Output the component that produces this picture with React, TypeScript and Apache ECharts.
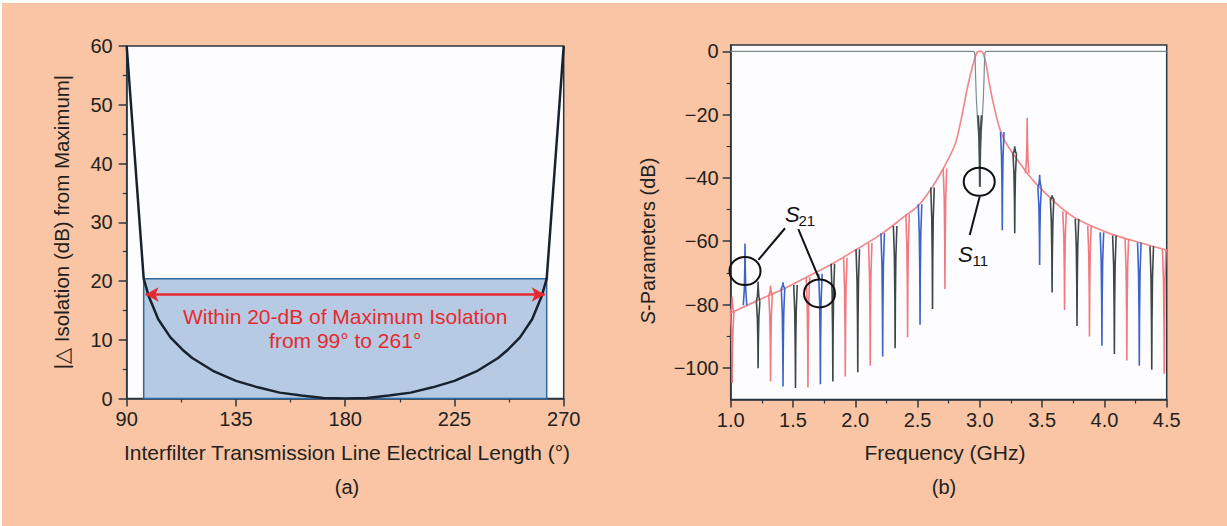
import React, { useEffect, useRef } from 'react';
import * as echarts from 'echarts';

// ---------- Panel (a): isolation deviation vs electrical length ----------
const angleDeg = [90, 97, 99, 103, 108, 113, 117, 126, 135, 144, 153, 162, 171, 180, 189, 198, 207, 216, 225, 234, 243, 247, 252, 257, 261, 263, 270];
const isoDelta = [60, 20.4, 17.5, 13.5, 10.4, 8.3, 6.9, 4.6, 3.0, 1.9, 1.0, 0.5, 0.1, 0, 0.1, 0.5, 1.0, 1.9, 3.0, 4.6, 6.9, 8.3, 10.4, 13.5, 17.5, 20.4, 60];
const windowBox = [97, 263, 20.4]; // start angle, end angle, top dB
const arrowSpan = [97.8, 262.2, 17.7]; // from, to, level
const noteLines = ['Within 20-dB of Maximum Isolation', 'from 99\u00b0 to 261\u00b0'];
const noteAnchors = [[180, 14.0], [180, 9.8]];

// ---------- Panel (b): S-parameters ----------
const envFreq = [1.0, 1.2, 1.4, 1.6, 1.8, 2.0, 2.2, 2.4, 2.5, 2.6, 2.7, 2.8, 2.85, 2.9, 2.93, 2.95, 2.97, 2.985, 3.0, 3.015, 3.03, 3.05, 3.08, 3.12, 3.16, 3.2, 3.27, 3.38, 3.48, 3.64, 3.78, 4.04, 4.31, 4.5];
const envDb = [-82.7, -79.0, -75.5, -71.5, -67.5, -62.8, -58.0, -52.0, -49.0, -44.0, -37.5, -29.5, -21.5, -11.5, -6.5, -3.5, -1.0, 0, 0, 0, -1.0, -4.0, -11.0, -18.5, -24.5, -28.3, -32.5, -38.5, -43.0, -49.0, -53.0, -57.5, -60.7, -62.8];

const s11Freq = [1.0, 2.95, 2.958, 2.962, 2.966, 2.972, 2.982, 2.995, 3.0, 3.005, 3.018, 3.028, 3.034, 3.038, 3.042, 3.05, 4.5];
const s11Db = [0, 0, -0.4, -2, -8, -15, -22, -30, -42.8, -30, -22, -15, -8, -2, -0.4, 0, 0];
const s11Core = [[3.0, -20.2, -42.8]];

const redNotchFreq = [1.012, 1.012, 1.32, 1.32, 1.62, 1.92, 2.12, 2.42, 2.72, 3.38, 3.68, 3.88, 4.18, 4.48];
const redNotchBase = [-82.4, -82.4, -77.0, -77.0, -71.3, -65.2, -60.5, -51.5, -37.0, -38.5, -50.5, -55.0, -59.3, -62.6];
const redNotchTip = [-77.5, -104.8, -74.0, -104.3, -106.1, -102.7, -99.3, -90.3, -75.1, -21.0, -81.7, -90.1, -97.7, -101.9];

const blueNotchFreq = [1.115, 1.42, 1.42, 1.72, 2.22, 2.52, 3.18, 3.48, 3.48, 3.98, 4.28];
const blueNotchBase = [-80.2, -74.8, -74.8, -70.3, -57.5, -48.3, -25.5, -43.0, -43.0, -57.2, -60.4];
const blueNotchTip = [-60.7, -73.0, -105.9, -105.2, -96.4, -86.4, -56.5, -39.0, -67.5, -93.0, -99.3];

const blackNotchFreq = [1.22, 1.22, 1.52, 1.82, 2.02, 2.32, 2.62, 3.28, 3.28, 3.58, 3.58, 3.78, 4.08, 4.38];
const blackNotchBase = [-79.0, -79.0, -73.8, -67.1, -62.5, -55.2, -43.0, -32.3, -32.3, -46.6, -46.6, -53.0, -58.2, -61.6];
const blackNotchTip = [-72.7, -100.1, -106.4, -104.3, -101.4, -93.8, -81.4, -30.0, -57.5, -45.5, -76.2, -86.8, -95.6, -100.6];

const yMajorB = [-100, -80, -60, -40, -20, 0];

// annotation anchors (data coordinates of panel b)
const circleCenters = [[1.115, -69.4], [1.713, -76.5], [2.995, -41.2]];
const leaderLines = [
  [[1.436, -55.9], [1.222, -65.9]],
  [[1.543, -56.2], [1.711, -72.0]],
  [[2.999, -45.9], [2.919, -58.0]],
];
const s21Anchor = [1.436, -51.7];
const s11Anchor = [2.825, -64.1];

const FONT = 'Liberation Sans, Arial, sans-serif';
const AX = '#2b3540';
const TXT = '#231f20';

const notchRender = (color: string, width: number) => (params: any, api: any) => {
  const f = api.value(0);
  const base = api.value(1);
  const tip = api.value(2);
  const offs = [-0.014, -0.006, -0.002, 0, 0.002, 0.006, 0.014];
  const frac = [0, 0.25, 0.6, 1, 0.6, 0.25, 0];
  const pts = offs.map((o, i) => api.coord([f + o, base + (tip - base) * frac[i]]));
  return {
    type: 'polyline',
    shape: { points: pts },
    style: { stroke: color, lineWidth: width, fill: null },
  };
};

const tickLabel = { color: TXT, fontFamily: FONT, fontSize: 20 };

export default function App() {
  const ref = useRef<HTMLDivElement>(null);
  useEffect(() => {
    if (!ref.current) return;
    const chart = echarts.init(ref.current, null, { renderer: 'svg' });
    const axisLine = { show: true, onZero: false, lineStyle: { color: AX, width: 1.5 } };
    const option: any = {
      animation: false,
      backgroundColor: 'transparent',
      grid: [
        { left: 126.7, top: 46, width: 437, height: 352.5, show: true, backgroundColor: '#fdfdff', borderColor: AX, borderWidth: 1.5 },
        { left: 730.7, top: 45, width: 436, height: 354.5, show: true, backgroundColor: '#fdfdff', borderColor: AX, borderWidth: 1.5 },
      ],
      xAxis: [
        {
          gridIndex: 0, type: 'value', min: 90, max: 270, interval: 45,
          axisLine, splitLine: { show: false },
          axisTick: { length: 8, lineStyle: { color: AX, width: 1.5 } },
          minorTick: { show: true, splitNumber: 2, length: 4, lineStyle: { color: AX, width: 1.2 } },
          axisLabel: { ...tickLabel, margin: 10 },
        },
        {
          gridIndex: 1, type: 'value', min: 1, max: 4.5, interval: 0.5,
          axisLine, splitLine: { show: false },
          axisTick: { length: 8, lineStyle: { color: AX, width: 1.5 } },
          minorTick: { show: true, splitNumber: 2, length: 4, lineStyle: { color: AX, width: 1.2 } },
          axisLabel: { ...tickLabel, margin: 10, formatter: (v: number) => v.toFixed(1) },
        },
      ],
      yAxis: [
        {
          gridIndex: 0, type: 'value', min: 0, max: 60, interval: 10,
          axisLine, splitLine: { show: false },
          axisTick: { length: 8, lineStyle: { color: AX, width: 1.5 } },
          minorTick: { show: true, splitNumber: 2, length: 4, lineStyle: { color: AX, width: 1.2 } },
          axisLabel: { ...tickLabel, margin: 14 },
        },
        {
          gridIndex: 1, type: 'value', min: -110, max: 2, splitNumber: 5,
          axisLine, splitLine: { show: false },
          axisTick: { customValues: yMajorB, length: 8, lineStyle: { color: AX, width: 1.5 } },
          minorTick: { show: true, splitNumber: 2, length: 4, lineStyle: { color: AX, width: 1.2 } },
          axisLabel: {
            ...tickLabel, margin: 12, customValues: yMajorB,
            formatter: (v: number) => (v < 0 ? '\u2212' + Math.abs(v) : String(v)),
          },
        },
      ],
      series: [
        {
          type: 'custom', xAxisIndex: 0, yAxisIndex: 0, z: 1, silent: true,
          data: [windowBox],
          encode: { x: [0, 1], y: 2 },
          renderItem: (params: any, api: any) => {
            const p0 = api.coord([api.value(0), api.value(2)]);
            const p1 = api.coord([api.value(1), 0]);
            return {
              type: 'rect',
              shape: { x: p0[0], y: p0[1], width: p1[0] - p0[0], height: p1[1] - p0[1] },
              style: { fill: '#b7cae3', stroke: '#2e6a9e', lineWidth: 1.5 },
            };
          },
        },
        {
          type: 'line', xAxisIndex: 0, yAxisIndex: 0, z: 3, silent: true,
          data: angleDeg.map((a, i) => [a, isoDelta[i]]),
          showSymbol: false, symbol: 'none',
          lineStyle: { color: '#18222e', width: 2.5 },
          markLine: {
            silent: true, symbol: ['arrow', 'arrow'], symbolSize: [11, 13],
            label: { show: false },
            lineStyle: { color: '#e42a30', width: 2.5, type: 'solid' },
            emphasis: { disabled: true },
            data: [[{ coord: [arrowSpan[0], arrowSpan[2]] }, { coord: [arrowSpan[1], arrowSpan[2]] }]],
          },
        },
        {
          type: 'line', xAxisIndex: 1, yAxisIndex: 1, z: 2, silent: true,
          data: envFreq.map((f, i) => [f, envDb[i]]),
          showSymbol: false, symbol: 'none', smooth: 0.3,
          lineStyle: { color: '#f08a8c', width: 1.7 },
        },
        {
          type: 'custom', xAxisIndex: 1, yAxisIndex: 1, z: 3, silent: true, clip: true,
          data: redNotchFreq.map((f, i) => [f, redNotchBase[i], redNotchTip[i]]),
          encode: { x: 0, y: [1, 2] },
          renderItem: notchRender('#f07a7e', 1.6),
        },
        {
          type: 'custom', xAxisIndex: 1, yAxisIndex: 1, z: 3, silent: true, clip: true,
          data: blueNotchFreq.map((f, i) => [f, blueNotchBase[i], blueNotchTip[i]]),
          encode: { x: 0, y: [1, 2] },
          renderItem: notchRender('#3d62c8', 1.6),
        },
        {
          type: 'custom', xAxisIndex: 1, yAxisIndex: 1, z: 3, silent: true, clip: true,
          data: blackNotchFreq.map((f, i) => [f, blackNotchBase[i], blackNotchTip[i]]),
          encode: { x: 0, y: [1, 2] },
          renderItem: notchRender('#3d4747', 1.6),
        },
        {
          type: 'line', xAxisIndex: 1, yAxisIndex: 1, z: 4, silent: true,
          data: s11Freq.map((f, i) => [f, s11Db[i]]),
          showSymbol: false, symbol: 'none',
          lineStyle: { color: '#7a8c8c', width: 1.2 },
        },
        {
          type: 'custom', xAxisIndex: 1, yAxisIndex: 1, z: 5, silent: true, clip: true,
          data: s11Core,
          encode: { x: 0, y: [1, 2] },
          renderItem: notchRender('#454d4d', 2),
        },
      ],
    };
    chart.setOption(option);

    const pb = (p: number[]) => chart.convertToPixel({ gridIndex: 1 }, p) as number[];
    const pa = (p: number[]) => chart.convertToPixel({ gridIndex: 0 }, p) as number[];
    const graphics: any[] = [];
    circleCenters.forEach((c) => {
      const p = pb(c);
      graphics.push({ type: 'ellipse', shape: { cx: p[0], cy: p[1], rx: 15.5, ry: 14 }, style: { fill: 'none', stroke: '#111', lineWidth: 2 }, z: 20 });
    });
    leaderLines.forEach((l) => {
      const a = pb(l[0]);
      const b = pb(l[1]);
      graphics.push({ type: 'line', shape: { x1: a[0], y1: a[1], x2: b[0], y2: b[1] }, style: { stroke: '#111', lineWidth: 2 }, z: 20 });
    });
    const s21 = pb(s21Anchor);
    graphics.push({ type: 'text', x: s21[0], y: s21[1], z: 20, style: { text: 'S', fontFamily: FONT, fontStyle: 'italic', fontSize: 22, fill: '#111', textAlign: 'left', textVerticalAlign: 'middle' } });
    graphics.push({ type: 'text', x: s21[0] + 13.5, y: s21[1] + 6, z: 20, style: { text: '21', fontFamily: FONT, fontSize: 15, fill: '#111', textAlign: 'left', textVerticalAlign: 'middle' } });
    const s11 = pb(s11Anchor);
    graphics.push({ type: 'text', x: s11[0], y: s11[1], z: 20, style: { text: 'S', fontFamily: FONT, fontStyle: 'italic', fontSize: 22, fill: '#111', textAlign: 'left', textVerticalAlign: 'middle' } });
    graphics.push({ type: 'text', x: s11[0] + 14.5, y: s11[1] + 6, z: 20, style: { text: '11', fontFamily: FONT, fontSize: 15, fill: '#111', textAlign: 'left', textVerticalAlign: 'middle' } });

    noteLines.forEach((t, i) => {
      const p = pa(noteAnchors[i]);
      graphics.push({ type: 'text', x: p[0], y: p[1], z: 20, style: { text: t, fontFamily: FONT, fontSize: 21, fill: '#e42a30', textAlign: 'center', textVerticalAlign: 'middle' } });
    });

    // axis titles and captions
    graphics.push({ type: 'text', x: 347, y: 452, style: { text: 'Interfilter Transmission Line Electrical Length (\u00b0)', fontFamily: FONT, fontSize: 21, fill: TXT, textAlign: 'center', textVerticalAlign: 'middle' } });
    graphics.push({ type: 'text', x: 945, y: 452, style: { text: 'Frequency (GHz)', fontFamily: FONT, fontSize: 21, fill: TXT, textAlign: 'center', textVerticalAlign: 'middle' } });
    graphics.push({ type: 'text', x: 61.5, y: 222, rotation: Math.PI / 2, style: { text: '|\u25b3 Isolation (dB) from Maximum|', fontFamily: FONT, fontSize: 20.5, fill: TXT, textAlign: 'center', textVerticalAlign: 'middle' } });
    graphics.push({ type: 'text', x: 648, y: 241, rotation: Math.PI / 2, style: { text: '{i|S}-Parameters (dB)', fontFamily: FONT, fontSize: 20, fill: TXT, textAlign: 'center', textVerticalAlign: 'middle', rich: { i: { fontStyle: 'italic', fontFamily: FONT, fontSize: 20, fill: TXT } } } });
    graphics.push({ type: 'text', x: 347, y: 487, style: { text: '(a)', fontFamily: FONT, fontSize: 20, fill: TXT, textAlign: 'center', textVerticalAlign: 'middle' } });
    graphics.push({ type: 'text', x: 944, y: 487, style: { text: '(b)', fontFamily: FONT, fontSize: 20, fill: TXT, textAlign: 'center', textVerticalAlign: 'middle' } });

    chart.setOption({ graphic: graphics });
    return () => chart.dispose();
  }, []);

  return (
    <div style={{ position: 'absolute', left: 0, top: 0, width: 1227, height: 526, background: '#ffffff', overflow: 'hidden' }}>
      <div style={{ position: 'absolute', left: 2, top: 3, width: 1225, height: 523, background: '#f9c5a5' }} />
      <div ref={ref} style={{ position: 'absolute', left: 0, top: 0, width: 1227, height: 526 }} />
    </div>
  );
}
